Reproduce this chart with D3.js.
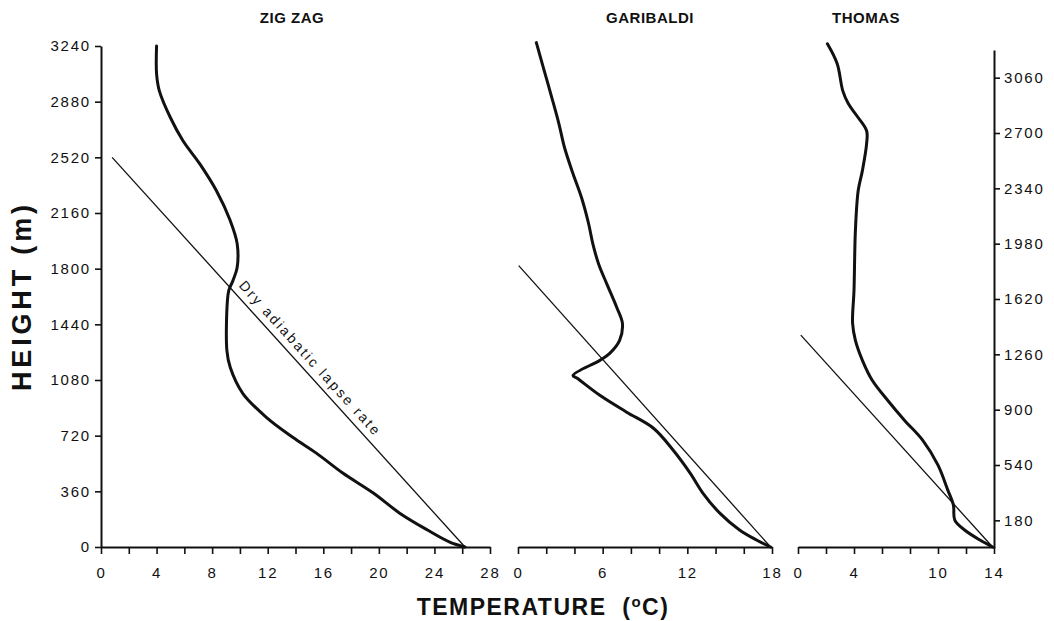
<!DOCTYPE html>
<html>
<head>
<meta charset="utf-8">
<script src="https://cdn.jsdelivr.net/npm/d3@7"></script>
<style>
  body { margin: 0; background: #fff; }
  text { font-family: "Liberation Sans", Arial, sans-serif; fill: #111; }
</style>
</head>
<body>
<svg id="chart" width="1054" height="621"></svg>
<script>
// height in m, temperature in degC
var heightTicks = [0, 360, 720, 1080, 1440, 1800, 2160, 2520, 2880, 3240];
var heightTicksRight = [180, 540, 900, 1260, 1620, 1980, 2340, 2700, 3060];

var zigzagTicks = [0, 2, 4, 6, 8, 10, 12, 14, 16, 18, 20, 22, 24, 26, 28];
var zigzagLabels = [0, 4, 8, 12, 16, 20, 24, 28];
var garibaldiTicks = [0, 2, 4, 6, 8, 10, 12, 14, 16, 18];
var garibaldiLabels = [0, 6, 12, 18];
var thomasTicks = [0, 2, 4, 6, 8, 10, 12, 14];
var thomasLabels = [0, 4, 10, 14];

// [temperature, height]
var zigzag = [[4.0, 3240], [4.0, 3060], [4.2, 2950], [5.0, 2776], [5.9, 2627], [7.1, 2479],
  [8.3, 2305], [9.3, 2111], [9.8, 1962], [9.8, 1808], [9.5, 1724], [9.2, 1660], [9.1, 1595],
  [9.06, 1272], [9.3, 1162], [10.2, 994], [11.9, 839], [13.8, 710], [15.5, 607], [17.4, 478],
  [19.6, 349], [21.5, 219], [23.5, 110], [25.1, 32], [26.2, 0]];
var garibaldi = [[1.3, 3262], [1.8, 3099], [2.4, 2905], [2.9, 2737], [3.3, 2582], [3.9, 2414],
  [4.5, 2260], [5.0, 2092], [5.3, 1962], [5.7, 1834], [6.3, 1700], [7.0, 1549], [7.4, 1446],
  [7.2, 1336], [6.5, 1252], [5.8, 1207], [3.9, 1110], [4.2, 1091], [5.8, 981], [7.7, 872],
  [9.6, 768], [11.0, 626], [12.2, 478], [13.1, 349], [14.3, 219], [15.7, 110], [16.9, 45], [17.9, 0]];
var thomas = [[2.1, 3254], [2.8, 3125], [3.2, 2950], [3.6, 2866], [4.2, 2789], [4.9, 2692],
  [4.9, 2608], [4.6, 2434], [4.3, 2305], [4.1, 2046], [4.0, 1659], [3.9, 1446], [4.1, 1336],
  [4.6, 1207], [5.3, 1078], [6.4, 949], [7.6, 820], [8.9, 691], [10.0, 529], [10.7, 368],
  [11.1, 271], [11.2, 174], [11.9, 110], [13.0, 45], [13.9, 0]];

// dry adiabatic lapse rate lines
var zigzagDry = [[0.8, 2520], [26.2, 0]];
var garibaldiDry = [[0.05, 1820], [17.9, 0]];
var thomasDry = [[0.2, 1370], [13.9, 0]];

var svg = d3.select('#chart');

var y = d3.scaleLinear().domain([0, 3240]).range([547, 46]);
var yRight = d3.scaleLinear().domain([0, 3240]).range([548, 50]);

var panels = [
  {name: 'ZIG ZAG', x: d3.scaleLinear().domain([0, 28]).range([101, 490]),
   ticks: zigzagTicks, labels: zigzagLabels, prof: zigzag, dry: zigzagDry, titleX: 292},
  {name: 'GARIBALDI', x: d3.scaleLinear().domain([0, 18]).range([518, 772]),
   ticks: garibaldiTicks, labels: garibaldiLabels, prof: garibaldi, dry: garibaldiDry, titleX: 650},
  {name: 'THOMAS', x: d3.scaleLinear().domain([0, 14]).range([798, 994]),
   ticks: thomasTicks, labels: thomasLabels, prof: thomas, dry: thomasDry, titleX: 866}
];

function styleAxis(g) {
  g.select('.domain').attr('stroke', '#111').attr('stroke-width', 2);
  g.selectAll('.tick line').attr('stroke', '#111').attr('stroke-width', 1.6);
  g.selectAll('.tick text')
    .style('font-family', '"Liberation Sans", Arial, sans-serif')
    .style('font-size', '15px')
    .style('letter-spacing', '1.8px')
    .attr('fill', '#111');
}

panels.forEach(function(p) {
  var ax = svg.append('g')
    .attr('transform', 'translate(0,' + y(0) + ')')
    .call(d3.axisBottom(p.x)
      .tickValues(p.ticks)
      .tickSize(7)
      .tickSizeOuter(0)
      .tickPadding(13)
      .tickFormat(function(d) { return p.labels.indexOf(d) >= 0 ? d : ''; }));
  styleAxis(ax);

  var line = d3.line()
    .x(function(d) { return p.x(d[0]); })
    .y(function(d) { return y(d[1]); });

  svg.append('path')
    .attr('d', line(p.dry))
    .attr('fill', 'none')
    .attr('stroke', '#111')
    .attr('stroke-width', 1.3);

  svg.append('path')
    .attr('d', line.curve(d3.curveCatmullRom.alpha(0.5))(p.prof))
    .attr('fill', 'none')
    .attr('stroke', '#111')
    .attr('stroke-width', 3)
    .attr('stroke-linejoin', 'round')
    .attr('stroke-linecap', 'round');

  svg.append('text')
    .attr('x', p.titleX)
    .attr('y', 23)
    .attr('text-anchor', 'middle')
    .style('font-family', '"Liberation Sans Narrow", "Liberation Sans", Arial, sans-serif')
    .style('font-weight', 'bold')
    .style('font-size', '15px')
    .style('letter-spacing', '0.5px')
    .text(p.name);
});

// left height axis
var left = svg.append('g')
  .attr('transform', 'translate(' + panels[0].x(0) + ',0)')
  .call(d3.axisLeft(y).tickValues(heightTicks).tickFormat(d3.format('d'))
    .tickSize(6).tickSizeOuter(0).tickPadding(4));
styleAxis(left);

// right height axis
var right = svg.append('g')
  .attr('transform', 'translate(' + panels[2].x(14) + ',0)')
  .call(d3.axisRight(yRight).tickValues(heightTicksRight).tickFormat(d3.format('d'))
    .tickSize(6).tickSizeOuter(0).tickPadding(4));
styleAxis(right);

// label along the Zig Zag dry adiabat
var d0 = [panels[0].x(zigzagDry[0][0]), y(zigzagDry[0][1])];
var d1 = [panels[0].x(zigzagDry[1][0]), y(zigzagDry[1][1])];
var ang = Math.atan2(d1[1] - d0[1], d1[0] - d0[0]) * 180 / Math.PI;
svg.append('text')
  .attr('transform', 'translate(' + d0[0] + ',' + d0[1] + ') rotate(' + ang + ')')
  .attr('x', 180)
  .attr('y', -7)
  .attr('textLength', 202)
  .attr('lengthAdjust', 'spacing')
  .style('font-size', '14px')
  .text('Dry adiabatic lapse rate');

// axis titles
svg.append('text')
  .attr('transform', 'translate(31,298) rotate(-90)')
  .attr('text-anchor', 'middle')
  .attr('textLength', 186)
  .attr('lengthAdjust', 'spacing')
  .style('font-weight', 'bold')
  .style('font-size', '27px')
  .text('HEIGHT (m)');

var xt = svg.append('text')
  .attr('x', 543)
  .attr('y', 615)
  .attr('text-anchor', 'middle')
  .style('font-weight', 'bold')
  .style('font-size', '23px')
  .style('letter-spacing', '1.5px');
xt.append('tspan').text('TEMPERATURE\u00a0\u00a0(');
xt.append('tspan').attr('dy', -8).style('font-size', '15px').text('o');
xt.append('tspan').attr('dy', 8).text('C)');
</script>
</body>
</html>
